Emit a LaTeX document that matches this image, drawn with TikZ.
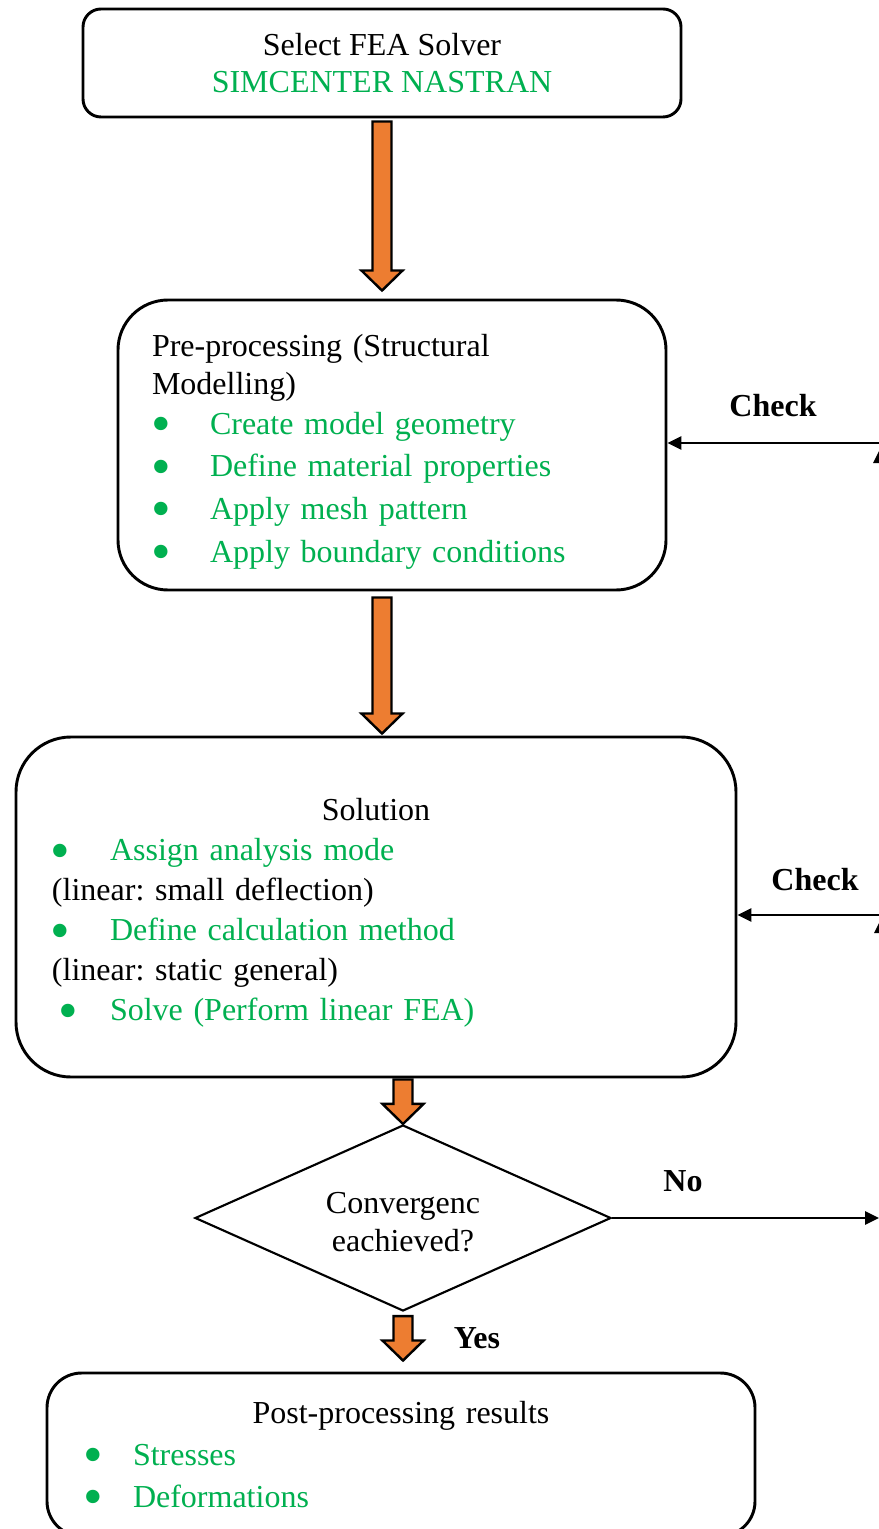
\documentclass[tikz,border=0pt]{standalone}
\usepackage{fontspec}
\setmainfont{Liberation Serif}
\usepackage{xcolor}
\usetikzlibrary{arrows.meta,positioning,shapes.geometric,calc}
\definecolor{fegreen}{RGB}{0,176,80}
\definecolor{feorange}{RGB}{237,125,49}
\frenchspacing
\def\pxu{0.375pt}
%% bullet item: [bullet offset]{text offset}{text}
\newcommand{\bigbul}{\raisebox{-3.1pt}[0pt][0pt]{\fontsize{21}{21}\selectfont\textbullet}}
\newcommand{\itm}[3][-1]{\makebox[\dimexpr\pxu*#2\relax][l]{\hspace*{\dimexpr\pxu*#1\relax}\textcolor{fegreen}{\bigbul}}\textcolor{fegreen}{#3}}
%% orange block arrow from start point to tip
\newcommand{\fatarrow}[2]{\draw[fat] let \p1=#1, \p2=#2 in
  (\x1-3.56pt,\y1) -- (\x1+3.56pt,\y1) -- (\x1+3.56pt,\y2+7.5pt) -- (\x1+7.7pt,\y2+7.5pt)
  -- (\x1,\y2) -- (\x1-7.7pt,\y2+7.5pt) -- (\x1-3.56pt,\y2+7.5pt) -- cycle;}

\begin{document}
\begin{tikzpicture}[x=0.375pt, y=-0.375pt,
  box/.style={draw=black, line width=1.1pt, fill=white, inner sep=0pt, font=\fontsize{12}{14}\selectfont},
  fat/.style={draw=black, line width=0.9pt, fill=feorange, line join=miter},
  line/.style={draw=black, line width=0.75pt, -{Triangle[length=5.25pt,width=5pt]}},
  lbl/.style={font=\fontsize{12}{14}\selectfont\bfseries}
]
  \clip (0,0) rectangle (879,1529);

  %% Solver selection
  \node[box, minimum width=598*\pxu, minimum height=108*\pxu, rounded corners=6.75pt, align=center] (sel) at (382,63)
    {Select FEA Solver\\\textcolor{fegreen}{SIMCENTER NASTRAN}};

  %% Pre-processing
  \node[box, minimum width=548*\pxu, minimum height=290*\pxu, rounded corners=18.75pt, text width=480*\pxu, align=left] (prep) at (392,445)
    {\rule{0pt}{13.5pt}Pre-processing (Structural\\Modelling)\\[1pt]
     \itm{58}{Create model geometry}\\[2pt]
     \itm{58}{Define material properties}\\[2pt]
     \itm{58}{Apply mesh pattern}\\[2pt]
     \itm{58}{Apply boundary conditions}};

  %% Solution
  \node[box, font=\fontsize{12}{15}\selectfont, minimum width=720*\pxu, minimum height=340*\pxu, rounded corners=20.6pt, text width=648*\pxu, align=left] (sol) at (376,907)
    {\rule{0pt}{13pt}\makebox[\linewidth]{Solution}\\
     \itm{58}{Assign analysis mode}\\
     (linear: small deflection)\\
     \itm{58}{Define calculation method}\\
     (linear: static general)\\
     \itm[7]{58}{Solve (Perform linear FEA)}};

  %% Convergence check
  \node[draw=black, line width=0.8pt, diamond, aspect=2.24, inner sep=0pt, minimum width=416*\pxu, minimum height=186*\pxu, align=center, font=\fontsize{12}{14}\selectfont] (conv) at (403,1218)
    {\rule{0pt}{11pt}Convergenc\\eachieved?};

  %% Post-processing
  \node[box, font=\fontsize{12}{15.6}\selectfont, minimum width=708*\pxu, minimum height=163*\pxu, rounded corners=13pt, text width=632*\pxu, align=left] (post) at (401,1454.5)
    {\makebox[\linewidth]{Post-processing results}\\
     \itm{48}{Stresses}\\
     \itm{48}{Deformations}};

  %% Block arrows
  \fatarrow{($(sel.south)+(0,3)$)}{($(sel.south |- prep.north)+(0,-8)$)}
  \fatarrow{($(prep.south -| sel.south)+(0,6)$)}{($(sol.north -| sel.south)+(0,-2)$)}
  \fatarrow{($(sol.south -| conv.north)+(0,1)$)}{(conv.north)}
  \fatarrow{($(conv.south)+(0,4)$)}{($(conv.south |- post.north)+(0,-11)$)}

  %% Feedback connectors (cut at the right edge)
  \coordinate (chkA) at (879,443);
  \coordinate (chkB) at (879,915);
  \coordinate (noend) at (879,1220);
  \coordinate (upA) at (880,449);
  \coordinate (upB) at (881,919);
  \draw[line] (chkA) -- (chkA -| prep.east);
  \draw[line] (chkB) -- (chkB -| sol.east);
  \draw[line] (conv.east) -- (conv.east -| noend);
  \draw[line] ($(upA)+(0,40)$) -- (upA);
  \draw[line] ($(upB)+(0,40)$) -- (upB);

  \node[lbl] (chkAlbl) at (773,406) {Check};
  \node[lbl] (chkBlbl) at (815,880) {Check};
  \node[lbl] (nolbl) at (683,1181) {No};
  \node[lbl] (yeslbl) at (477,1338) {Yes};
\end{tikzpicture}
\end{document}
